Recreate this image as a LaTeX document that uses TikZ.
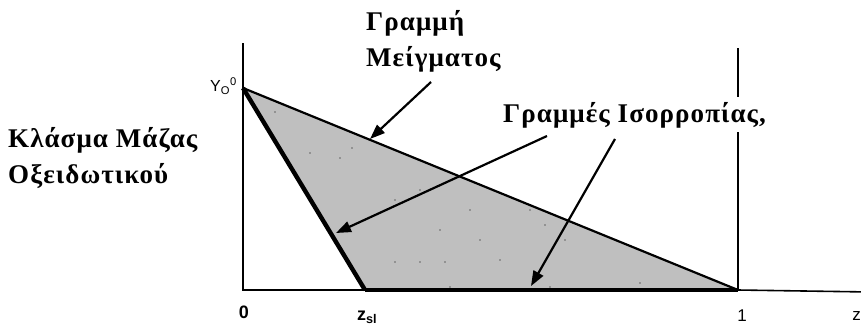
\documentclass[tikz,border=0pt]{standalone}
\usepackage{fontspec}
\setmainfont{Liberation Serif}
\newfontfamily\labsans{Liberation Sans}
\newfontfamily\lblfont[LetterSpace=4]{Liberation Serif}
\usetikzlibrary{arrows.meta}
\begin{document}
\begin{tikzpicture}[x=1pt,y=-1pt,
  axis/.style={line width=2.6pt},
  mixline/.style={line width=2.2pt},
  eqline/.style={line width=4.4pt},
  pointer/.style={line width=2.2pt,-{Triangle[length=15pt,width=11pt]}},
  lbl/.style={font=\lblfont\bfseries\fontsize{27}{36}\selectfont,inner sep=0pt,align=left},
  tick/.style={font=\labsans\bfseries\fontsize{18}{20}\selectfont,inner sep=0pt}]
\useasboundingbox (0,0) rectangle (861,332);
% key points
\coordinate (apex) at (243,88);
\coordinate (zsl) at (365,290);
\coordinate (one) at (738,290);
\coordinate (ytop) at (243,43);
\coordinate (origin) at (243,290);
\coordinate (rtop) at (738,48);
\coordinate (rgaptop) at (738,97);
\coordinate (rgapbot) at (738,132);
\coordinate (xend) at (870,292);
% shaded region
\fill[gray!50] (apex) -- (zsl) -- (one) -- cycle;
\foreach \p in {(275,112),(310,153),(340,158),(352,148),(395,200),(420,190),(440,230),(470,210),(480,240),(395,262),(420,262),(445,262),(530,210),(545,225),(565,240),(500,260),(640,283),(550,287),(450,287)}
  \fill[black] \p circle (0.7pt);
% axes
\draw[axis] (ytop) -- (origin) -- (zsl);
\draw[line width=3.2pt] (zsl) -- (one);
\draw[line width=1.6pt] (one) -- (xend);
\draw[line width=2.4pt] (rtop) -- (rgaptop);
\draw[line width=2.4pt] (rgapbot) -- (one);
% mixing and equilibrium lines
\draw[mixline] (apex) -- (one);
\draw[eqline] (apex) -- (zsl);
% labels
\node[lbl,anchor=west] (mix) at (366,41) {Γραμμή\\Μείγματος};
\node[lbl,anchor=west] (eq) at (503,115) {Γραμμές Ισορροπίας,};
\node[lbl,anchor=west] (ylab) at (8,158) {Κλάσμα Μάζας\\Οξειδωτικού};
\node[font=\labsans\fontsize{16}{18}\selectfont,inner sep=0pt,anchor=east] (yo) at (237,86) {Y\textsubscript{O}\textsuperscript{0}};
\node[tick] (t0) at (244,312) {0};
\node[tick] (tz) at (367,317) {z\textsubscript{sl}};
\node[font=\labsans\fontsize{17}{19}\selectfont,inner sep=0pt] (t1) at (742,316) {1};
\node[font=\labsans\fontsize{17}{19}\selectfont,inner sep=0pt,anchor=east] (t2) at (861,316) {z};
% arrow targets
\coordinate (mixtip) at (370,139);
\coordinate (mixfrom) at (431,82);
\coordinate (eqtipA) at (336,233);
\coordinate (eqfromA) at (547,136);
\coordinate (eqtipB) at (531,286);
\coordinate (eqfromB) at (615,139);
\draw[pointer] (mixfrom) -- (mixtip);
\draw[pointer] (eqfromA) -- (eqtipA);
\draw[pointer] (eqfromB) -- (eqtipB);
\end{tikzpicture}
\end{document}
